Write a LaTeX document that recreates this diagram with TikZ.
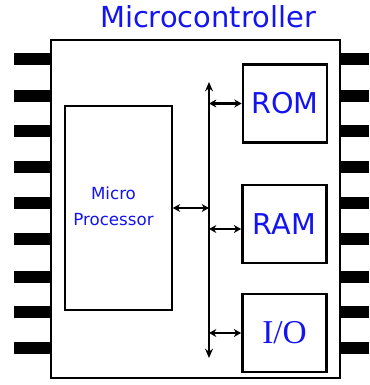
\documentclass[tikz,border=0pt]{standalone}
\usepackage{fontspec}
\setsansfont{DejaVu Sans}
\newfontfamily\iofont{Liberation Serif}
\usetikzlibrary{arrows.meta}
\definecolor{chipBlue}{RGB}{20,20,240}

\begin{document}
\begin{tikzpicture}[x=0.75pt, y=-0.75pt,
    box/.style={draw, line width=1.2pt, inner sep=0pt},
    unit/.style={draw, line width=2pt, inner sep=0pt, minimum width=63pt, minimum height=58.5pt,
      font=\sffamily\fontsize{21.5}{24}\selectfont, text=chipBlue},
    pin/.style={line width=9pt},
    busline/.style={{Stealth[length=7pt,width=6pt]}-{Stealth[length=7pt,width=6pt]}, line width=1.2pt},
    bidir/.style={{Stealth[length=5.5pt,width=6pt]}-{Stealth[length=5.5pt,width=6pt]}, line width=1.6pt}]
  \useasboundingbox (0,0) rectangle (369,385);
  \foreach \y in {59,96,131,167,203,239,277,312,348} {
    \draw[pin] (14,\y) -- (51,\y);
    \draw[pin] (340,\y) -- (369,\y);
  }
  \node[box, fill=white, minimum width=216.75pt, minimum height=253.5pt] (mcu) at (195.5,209) {};
  \node[text=chipBlue, font=\sffamily\fontsize{21.7}{26}\selectfont, anchor=base] (title) at (208,28) {Microcontroller};
  \node[box, minimum width=80.25pt, minimum height=153pt] (cpu) at (118.5,208) {};
  \node[text=chipBlue, align=center, font=\sffamily\fontsize{12.5}{19.5}\selectfont] (cpulabel) at (113.5,206) {Micro\\Processor};
  \node[unit] (rom) at (285,103.5) {ROM};
  \node[unit] (ram) at (284.5,224) {RAM};
  \node[unit, font=\iofont\fontsize{25}{28}\selectfont] (io) at (284.5,333) {I/O};
  \coordinate (bustop) at (209,82);
  \coordinate (busbot) at (209,358);
  \coordinate (ramport) at ([yshift=-3.75pt]ram.west);
  \draw[busline] (bustop) -- (busbot);
  \draw[bidir] (cpu.east) -- (cpu.east -| bustop);
  \draw[bidir] (rom.west -| bustop) -- (rom.west);
  \draw[bidir] (ramport -| bustop) -- (ramport);
  \draw[bidir] (io.west -| bustop) -- (io.west);
\end{tikzpicture}
\end{document}
